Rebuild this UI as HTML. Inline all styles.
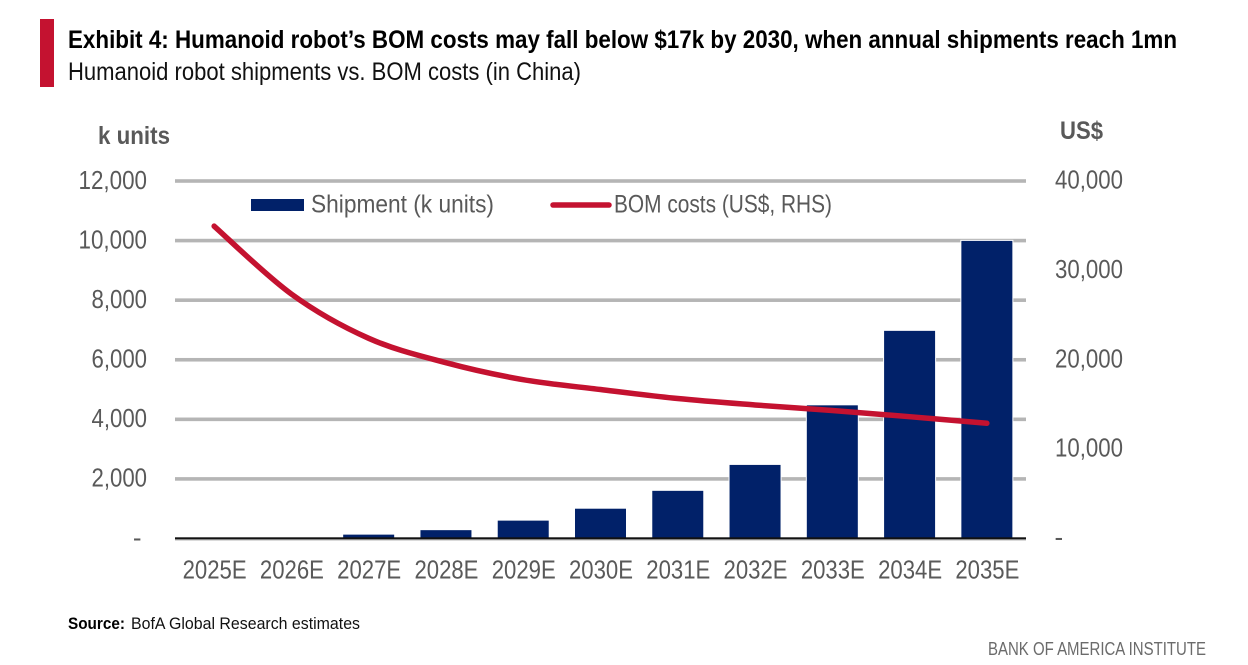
<!DOCTYPE html>
<html lang="en">
<head>
<meta charset="utf-8">
<title>Exhibit 4: Humanoid robot BOM costs</title>
<style>
html,body{margin:0;padding:0;background:#fff;width:1248px;height:665px;overflow:hidden}
svg{display:block;font-family:"Liberation Sans Narrow","Liberation Sans",sans-serif}
</style>
</head>
<body>
<svg id="chart" xmlns="http://www.w3.org/2000/svg" width="1248" height="665" viewBox="0 0 1248 665">
  <rect x="40" y="19" width="14" height="68" fill="#c41230"/>
  <text x="68" y="48" font-size="25" font-weight="700" fill="#000" textLength="1109" lengthAdjust="spacingAndGlyphs">Exhibit 4: Humanoid robot’s BOM costs may fall below $17k by 2030, when annual shipments reach 1mn</text>
  <text x="68" y="80" font-size="25" fill="#111" textLength="513" lengthAdjust="spacingAndGlyphs">Humanoid robot shipments vs. BOM costs (in China)</text>
  <text x="98" y="144" font-size="25" font-weight="700" fill="#595959" textLength="72" lengthAdjust="spacingAndGlyphs">k units</text>
  <text x="1060" y="139" font-size="25" font-weight="700" fill="#595959" textLength="43" lengthAdjust="spacingAndGlyphs">US$</text>
  <g id="grid"></g>
  <g id="bars"></g>
  <g id="axis"></g>
  <path id="line" fill="none" stroke="#c41230" stroke-width="5.5" stroke-linecap="round" stroke-linejoin="round"/>
  <g id="leftTicks"></g>
  <g id="rightTicks"></g>
  <g id="xTicks"></g>
  <g>
    <rect x="251" y="199" width="53" height="12" fill="#012169"/>
    <text x="311" y="212.5" font-size="25" fill="#595959" textLength="183" lengthAdjust="spacingAndGlyphs">Shipment (k units)</text>
    <line x1="553" y1="205" x2="609" y2="205" stroke="#c41230" stroke-width="5.5" stroke-linecap="round"/>
    <text x="614" y="212.5" font-size="25" fill="#595959" textLength="218" lengthAdjust="spacingAndGlyphs">BOM costs (US$, RHS)</text>
  </g>
  <text x="68" y="629" font-size="17" font-weight="700" fill="#000" textLength="57" lengthAdjust="spacingAndGlyphs">Source:</text>
  <text x="131" y="629" font-size="17" fill="#111" textLength="229" lengthAdjust="spacingAndGlyphs">BofA Global Research estimates</text>
  <text x="988" y="655" font-size="18" fill="#6b6b6b" textLength="218" lengthAdjust="spacingAndGlyphs">BANK OF AMERICA INSTITUTE</text>
</svg>
<script>
var categories = ['2025E','2026E','2027E','2028E','2029E','2030E','2031E','2032E','2033E','2034E','2035E'];
var shipments = [10, 30, 130, 280, 600, 1000, 1600, 2470, 4470, 6970, 9990];
var bomCosts = [34950, 27350, 22400, 19670, 17770, 16670, 15660, 14940, 14320, 13630, 12890];
var leftTickValues = [0, 2000, 4000, 6000, 8000, 10000, 12000];
var leftTickLabels = ['-', '2,000', '4,000', '6,000', '8,000', '10,000', '12,000'];
var rightTickValues = [0, 10000, 20000, 30000, 40000];
var rightTickLabels = ['-', '10,000', '20,000', '30,000', '40,000'];

var NS = 'http://www.w3.org/2000/svg';
var plotLeft = 175.5, plotRight = 1025.5, plotTop = 181, plotBottom = 538.5;
var leftMax = 12000, rightMax = 40000;
var barWidth = 51;

function xCenter(i) { return plotLeft + (i + 0.5) * (plotRight - plotLeft) / categories.length; }
function yLeft(v) { return plotBottom - (v / leftMax) * (plotBottom - plotTop); }
function yRight(v) { return plotBottom - (v / rightMax) * (plotBottom - plotTop); }

function make(tag, parentId, attrs, content) {
  var el = document.createElementNS(NS, tag);
  for (var k in attrs) el.setAttribute(k, attrs[k]);
  if (content !== undefined) el.textContent = content;
  document.getElementById(parentId).appendChild(el);
  return el;
}

leftTickValues.forEach(function (v, i) {
  if (v > 0) {
    var g = make('rect', 'grid', { x: 175, y: yLeft(v) - 1.8, width: 851, height: 3.6, fill: '#b5b5b5' });
    
    
  }
  var t = make('text', 'leftTicks', { x: v === 0 ? 141.5 : 147, y: yLeft(v) + 7.8, 'text-anchor': 'end', 'font-size': 26, fill: '#595959' }, leftTickLabels[i]);
  
  
});

rightTickValues.forEach(function (v, i) {
  var isZero = v === 0;
  var t = make('text', 'rightTicks', { x: isZero ? 1054.5 : 1123, y: yRight(v) + 7.5, 'text-anchor': isZero ? 'start' : 'end', 'font-size': 26, fill: '#595959' }, rightTickLabels[i]);
  
  
});

categories.forEach(function (c, i) {
  var top = yLeft(shipments[i]);
  var b = make('rect', 'bars', { x: xCenter(i) - (barWidth + 1) / 2, y: top - 0.5, width: barWidth + 1, height: plotBottom - top + 0.5, fill: '#012169', stroke: '#fff', 'stroke-width': 1 });
  
  
  var t = make('text', 'xTicks', { x: xCenter(i) + 0.5, y: 578.5, 'text-anchor': 'middle', 'font-size': 26, fill: '#595959' }, c);
  
  
});

var axisGray = make('rect', 'axis', { x: 175, y: 539, width: 851, height: 1.5, fill: '#b5b5b5' });


var axisLine = make('rect', 'axis', { x: 175, y: 537.3, width: 851, height: 2, fill: '#111' });



var pts = bomCosts.map(function (v, i) { return [xCenter(i), yRight(v)]; });
var d = 'M' + pts[0][0] + ' ' + pts[0][1];
for (var i = 0; i < pts.length - 1; i++) {
  var p0 = pts[Math.max(0, i - 1)], p1 = pts[i], p2 = pts[i + 1], p3 = pts[Math.min(pts.length - 1, i + 2)];
  var c1x = p1[0] + (p2[0] - p0[0]) / 6, c1y = p1[1] + (p2[1] - p0[1]) / 6;
  var c2x = p2[0] - (p3[0] - p1[0]) / 6, c2y = p2[1] - (p3[1] - p1[1]) / 6;
  d += ' C' + c1x + ' ' + c1y + ' ' + c2x + ' ' + c2y + ' ' + p2[0] + ' ' + p2[1];
}
document.getElementById('line').setAttribute('d', d);

// Fit numeric labels to the condensed widths seen in the reference when no narrow face is available.
function fit(id, widthFor) {
  Array.prototype.forEach.call(document.getElementById(id).children, function (t) {
    if (t.textContent.length > 1) {
      t.setAttribute('textLength', widthFor(t.textContent));
      t.setAttribute('lengthAdjust', 'spacingAndGlyphs');
    }
  });
}
fit('leftTicks', function (s) { return s.length === 6 ? 68.5 : 55.5; });
fit('rightTicks', function () { return 68; });
fit('xTicks', function () { return 64; });
</script>
</body>
</html>
